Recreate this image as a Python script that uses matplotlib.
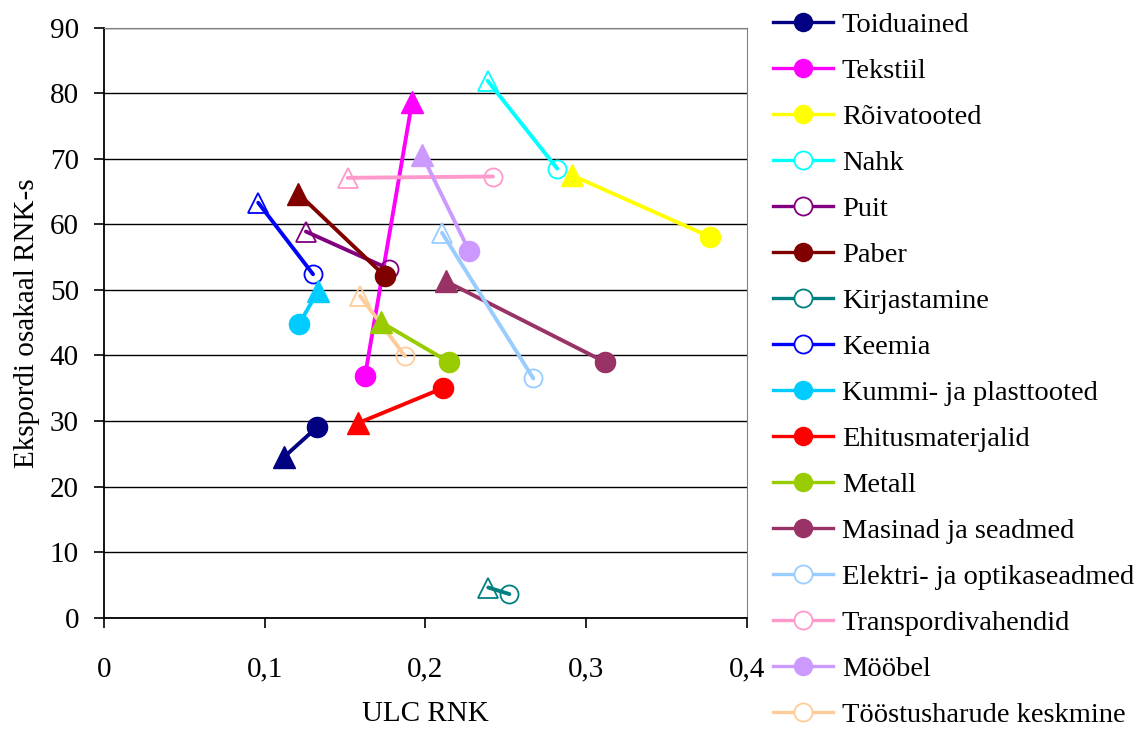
import matplotlib.pyplot as plt
from matplotlib.lines import Line2D

plt.rcParams['font.family'] = ['Liberation Serif', 'DejaVu Serif']

# industries (legend order)
names = ['Toiduained', 'Tekstiil', 'Rõivatooted', 'Nahk', 'Puit', 'Paber',
         'Kirjastamine', 'Keemia', 'Kummi- ja plasttooted', 'Ehitusmaterjalid',
         'Metall', 'Masinad ja seadmed', 'Elektri- ja optikaseadmed',
         'Transpordivahendid', 'Mööbel', 'Tööstusharude keskmine']
colors = ['#000080', '#FF00FF', '#FFFF00', '#00FFFF', '#800080', '#800000',
          '#008080', '#0000FF', '#00CCFF', '#FF0000', '#99CC00', '#993366',
          '#99CCFF', '#FF99CC', '#CC99FF', '#FFCC99']
filled = [True, True, True, False, False, True, False, False, True, True,
          True, True, False, False, True, False]

# circle end (ULC RNK, export share)
circle_x = [0.1328, 0.1624, 0.3771, 0.2821, 0.1774, 0.1749, 0.2523, 0.1301,
            0.1214, 0.2108, 0.2147, 0.3118, 0.2672, 0.2421, 0.2272, 0.1873]
circle_y = [29.1, 36.8, 58.1, 68.5, 53.2, 52.1, 3.6, 52.4,
            44.8, 35.0, 39.0, 39.0, 36.5, 67.3, 56.0, 39.9]
# triangle end
tri_x = [0.1120, 0.1917, 0.2911, 0.2388, 0.1257, 0.1209, 0.2392, 0.0960,
         0.1332, 0.1583, 0.1722, 0.2129, 0.2104, 0.1517, 0.1979, 0.1593]
tri_y = [24.5, 78.6, 67.5, 81.9, 58.9, 64.7, 4.6, 63.3,
         49.8, 29.7, 45.1, 51.3, 58.7, 67.1, 70.6, 49.1]

fig = plt.figure(figsize=(11.4, 7.29), dpi=100)
ax = fig.add_axes([0.0912, 0.1527, 0.5638, 0.8093])

handles = []
for i in range(len(names)):
    c = colors[i]
    ax.plot([circle_x[i], tri_x[i]], [circle_y[i], tri_y[i]], color=c, lw=2.8,
            solid_capstyle='round', zorder=3)
    if filled[i]:
        ax.plot(circle_x[i], circle_y[i], 'o', ms=14.5, color=c, mec=c, zorder=4)
        ax.plot(tri_x[i], tri_y[i], '^', ms=15.5, color=c, mec=c, zorder=4)
        handles.append(Line2D([], [], color=c, lw=2.4, marker='o', ms=13, mfc=c, mec=c))
    else:
        ax.plot(circle_x[i], circle_y[i], 'o', ms=13, mfc='none', mec=c, mew=1.3, zorder=4)
        ax.plot(tri_x[i], tri_y[i], '^', ms=15, mfc='none', mec=c, mew=1.3, zorder=4)
        handles.append(Line2D([], [], color=c, lw=2.4, marker='o', ms=13, mfc='white',
                              mec=c, mew=1.3))

ax.set_xlim(0, 0.4)
ax.set_ylim(0, 90)
ax.set_xticks([0, 0.1, 0.2, 0.3, 0.4])
ax.set_xticklabels(['0', '0,1', '0,2', '0,3', '0,4'])
ax.set_yticks(range(0, 91, 10))
ax.yaxis.grid(True, color='black', lw=1)
ax.set_axisbelow(True)

ax.spines['top'].set_color('#808080')
ax.spines['right'].set_color('#808080')
ax.spines['left'].set_linewidth(1.3)
ax.spines['bottom'].set_linewidth(1.3)
ax.tick_params(axis='y', direction='out', length=7, width=1.2, pad=11, labelsize=21)
ax.tick_params(axis='x', direction='out', length=7, width=1.2, pad=21, labelsize=21)

ax.set_xlabel('ULC RNK', fontsize=21, labelpad=13)
ax.set_ylabel('Ekspordi osakaal RNK-s', fontsize=21, labelpad=7)

fig.legend(handles, names, loc='upper left', bbox_to_anchor=(772.7 / 1140, 0.984),
           frameon=False, fontsize=20.5, borderpad=0, borderaxespad=0,
           handlelength=2.13, handletextpad=0.3, labelspacing=0.705)

fig.savefig('out.png', dpi=100)
